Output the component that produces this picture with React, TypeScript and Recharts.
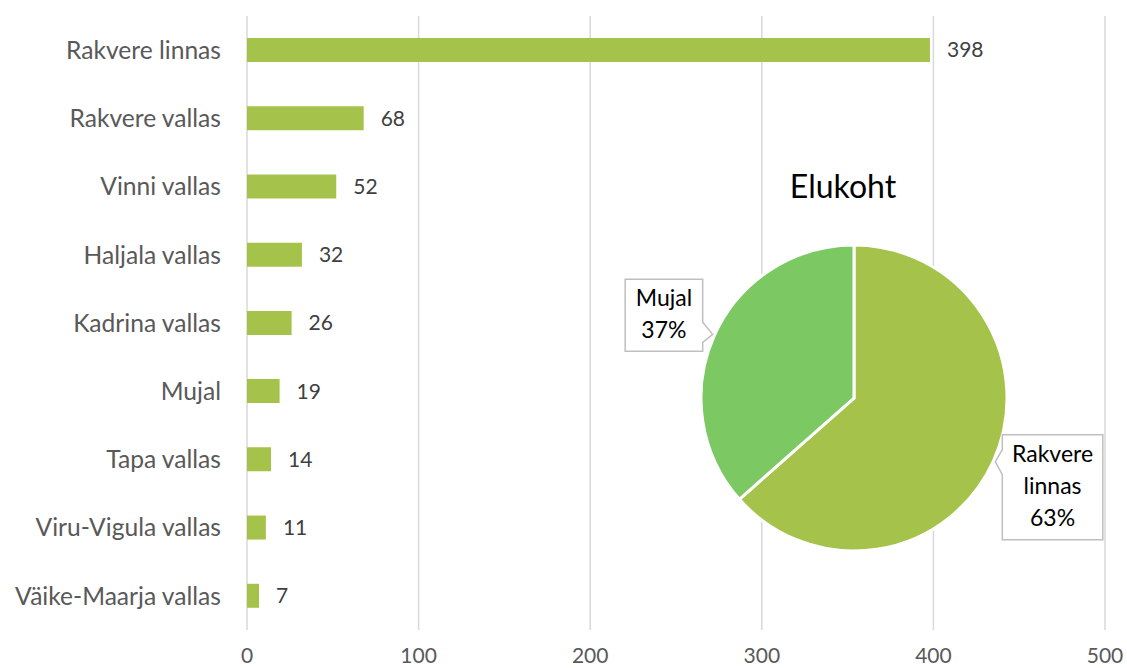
import React from 'react';
import { BarChart, Bar, XAxis, YAxis, CartesianGrid, LabelList, PieChart, Pie, Cell } from 'recharts';

const categories = [
  'Rakvere linnas',
  'Rakvere vallas',
  'Vinni vallas',
  'Haljala vallas',
  'Kadrina vallas',
  'Mujal',
  'Tapa vallas',
  'Viru-Vigula vallas',
  'Väike-Maarja vallas',
];
const counts = [398, 68, 52, 32, 26, 19, 14, 11, 7];
const xTicks = [0, 100, 200, 300, 400, 500];

const pieNames = ['Rakvere linnas', 'Mujal'];
const pieValues = [398, 229];
const pieTitle = 'Elukoht';

const BAR_COLOR = '#A5C34A';
const PIE_COLORS = ['#A5C34A', '#7CC964'];
const FONT = 'Lato, "Open Sans", sans-serif';

const barData = categories.map((name, i) => ({ name, value: counts[i] }));
const pieData = pieNames.map((name, i) => ({ name, value: pieValues[i] }));

const RADIAN = Math.PI / 180;

const renderCallout = (props: any) => {
  const { cx, cy, midAngle, outerRadius, percent, name } = props;
  const cos = Math.cos(-midAngle * RADIAN);
  const sin = Math.sin(-midAngle * RADIAN);
  const tipX = cx + (outerRadius + 2) * cos;
  const tipY = cy + (outerRadius + 2) * sin;
  const lines = [...String(name).split(' '), `${Math.round(percent * 100)}%`];
  const maxLen = Math.max(...lines.map((l) => l.length));
  const w = maxLen * 11.5 + 20;
  const h = lines.length * 33 + 6;
  let L: number, T: number, R: number, B: number, d: string;
  if (cos < 0) {
    R = tipX - 10;
    L = R - w;
    T = tipY - h + 17;
    B = T + h;
    d = `M${L},${T} L${R},${T} L${R},${tipY - 12} L${tipX},${tipY} L${R},${tipY + 8} L${R},${B} L${L},${B} Z`;
  } else {
    L = tipX + 7;
    R = L + w;
    T = tipY - 27;
    B = T + h;
    d = `M${L},${T} L${R},${T} L${R},${B} L${L},${B} L${L},${tipY + 13} L${tipX},${tipY} L${L},${tipY - 12} Z`;
  }
  const mid = (L + R) / 2;
  return (
    <g>
      <path d={d} fill="#FFFFFF" stroke="#BFBFBF" strokeWidth={1.5} />
      {lines.map((l, i) => (
        <text
          key={i}
          x={mid}
          y={T + 27 + i * 32}
          textAnchor="middle"
          fill="#000000"
          fontSize={23}
          fontFamily={FONT}
        >
          {l}
        </text>
      ))}
    </g>
  );
};

export default function App() {
  return (
    <div style={{ position: 'absolute', left: 0, top: 0, width: 1127, height: 668, background: '#FFFFFF', overflow: 'hidden' }}>
      <div style={{ position: 'absolute', left: 0, top: 0 }}>
        <BarChart
          width={1127}
          height={668}
          data={barData}
          layout="vertical"
          margin={{ top: 16, right: 22, bottom: 0, left: 0 }}
          barCategoryGap={0}
        >
          <CartesianGrid horizontal={false} vertical={true} stroke="#D9D9D9" strokeWidth={1.5} />
          <XAxis
            type="number"
            domain={[0, 500]}
            ticks={xTicks}
            axisLine={false}
            tickLine={false}
            height={38}
            tickMargin={12}
            tick={{ fill: '#595959', fontSize: 21, fontFamily: FONT }}
            interval={0}
          />
          <YAxis
            type="category"
            dataKey="name"
            width={247}
            axisLine={false}
            tickLine={false}
            tickMargin={20}
            tick={{ fill: '#595959', fontSize: 24.6, fontFamily: FONT }}
            interval={0}
          />
          <Bar dataKey="value" fill={BAR_COLOR} barSize={24} isAnimationActive={false}>
            <LabelList
              dataKey="value"
              position="right"
              offset={17}
              fill="#404040"
              fontSize={21}
              fontFamily={FONT}
            />
          </Bar>
        </BarChart>
      </div>
      <div style={{ position: 'absolute', left: 0, top: 0 }}>
        <PieChart width={1127} height={668} margin={{ top: 0, right: 0, bottom: 0, left: 0 }}>
          <Pie
            data={pieData}
            dataKey="value"
            nameKey="name"
            cx={854}
            cy={398}
            outerRadius={153}
            startAngle={90}
            endAngle={-270}
            stroke="#FFFFFF"
            strokeWidth={3}
            label={renderCallout}
            labelLine={false}
            isAnimationActive={false}
          >
            {pieData.map((d, i) => (
              <Cell key={d.name} fill={PIE_COLORS[i]} />
            ))}
          </Pie>
        </PieChart>
      </div>
      <svg width={1127} height={668} style={{ position: 'absolute', left: 0, top: 0, pointerEvents: 'none' }}>
        <text x={843} y={198} textAnchor="middle" fill="#000000" fontSize={32} fontFamily={FONT}>
          {pieTitle}
        </text>
      </svg>
    </div>
  );
}
